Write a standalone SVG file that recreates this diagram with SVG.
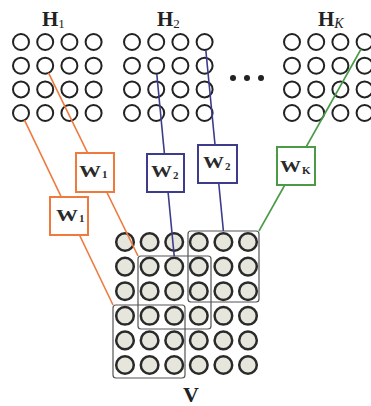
<svg xmlns="http://www.w3.org/2000/svg" width="371" height="406" viewBox="0 0 371 406">
  <defs>
    <style>
      .hc { fill: none; stroke: #222; stroke-width: 2; }
      .vc { fill: #e6e6dc; stroke: #2a2a2a; stroke-width: 2.5; }
      .vbox { fill: none; stroke: #555; stroke-width: 1.2; }
      .lbl { font-family: "Liberation Serif", "DejaVu Serif", serif; font-weight: bold; fill: #222; }
      .sub { font-weight: normal; }
      .wlbl { font-family: "Liberation Serif", "DejaVu Serif", serif; font-weight: bold; fill: #2a2a2a; }
      .orange { stroke: #ee7a3e; }
      .blue { stroke: #3c3c8a; }
      .green { stroke: #4a9a48; }
      .conn line { stroke-width: 1.6; }
      .wbox { fill: #fff; stroke-width: 2; }
    </style>
    <g id="hgrid">
      <circle class="hc" cx="0" cy="0" r="8"/><circle class="hc" cx="24.2" cy="0" r="8"/><circle class="hc" cx="48.4" cy="0" r="8"/><circle class="hc" cx="72.6" cy="0" r="8"/>
      <circle class="hc" cx="0" cy="23.7" r="8"/><circle class="hc" cx="24.2" cy="23.7" r="8"/><circle class="hc" cx="48.4" cy="23.7" r="8"/><circle class="hc" cx="72.6" cy="23.7" r="8"/>
      <circle class="hc" cx="0" cy="47.4" r="8"/><circle class="hc" cx="24.2" cy="47.4" r="8"/><circle class="hc" cx="48.4" cy="47.4" r="8"/><circle class="hc" cx="72.6" cy="47.4" r="8"/>
      <circle class="hc" cx="0" cy="71" r="8"/><circle class="hc" cx="24.2" cy="71" r="8"/><circle class="hc" cx="48.4" cy="71" r="8"/><circle class="hc" cx="72.6" cy="71" r="8"/>
    </g>
    <g id="vrow">
      <circle class="vc" cx="125" cy="0" r="8.8"/><circle class="vc" cx="149.6" cy="0" r="8.8"/><circle class="vc" cx="174.2" cy="0" r="8.8"/>
      <circle class="vc" cx="198.8" cy="0" r="8.8"/><circle class="vc" cx="223.4" cy="0" r="8.8"/><circle class="vc" cx="248" cy="0" r="8.8"/>
    </g>
  </defs>

  <rect width="371" height="406" fill="#fff"/>

  <!-- hidden-layer grids -->
  <g id="H1">
    <use href="#hgrid" x="21" y="42"/>
    <text class="lbl" x="42" y="26" font-size="21">H<tspan class="sub" font-size="13" dy="2">1</tspan></text>
  </g>
  <g id="H2">
    <use href="#hgrid" x="132" y="42"/>
    <text class="lbl" x="157" y="26" font-size="21">H<tspan class="sub" font-size="13" dy="2">2</tspan></text>
  </g>
  <g id="ellipsis">
    <circle cx="233" cy="78" r="3" fill="#222"/>
    <circle cx="247" cy="78" r="3" fill="#222"/>
    <circle cx="261" cy="78" r="3" fill="#222"/>
  </g>
  <g id="HK">
    <use href="#hgrid" x="292" y="42"/>
    <text class="lbl" x="318" y="26" font-size="21">H<tspan class="sub" font-size="14" dy="2" font-style="italic">K</tspan></text>
  </g>

  <!-- visible layer -->
  <g id="V">
    <use href="#vrow" y="242"/>
    <use href="#vrow" y="266.6"/>
    <use href="#vrow" y="291.2"/>
    <use href="#vrow" y="315.8"/>
    <use href="#vrow" y="340.4"/>
    <use href="#vrow" y="365"/>
    <rect class="vbox" x="188" y="231" width="71" height="71" rx="3"/>
    <rect class="vbox" x="138" y="256" width="73" height="73" rx="3"/>
    <rect class="vbox" x="113" y="305" width="72" height="73" rx="3"/>
    <text class="lbl" x="191" y="402" font-size="22" text-anchor="middle">V</text>
  </g>

  <!-- connectors -->
  <g id="connectors" class="conn">
    <line class="orange" x1="48.5" y1="72.9" x2="138" y2="256"/>
    <line class="orange" x1="24.5" y1="120.2" x2="113" y2="305"/>
    <line class="blue" x1="156.8" y1="74" x2="174.2" y2="256"/>
    <line class="blue" x1="205.8" y1="50" x2="223.4" y2="231"/>
    <line class="green" x1="361.1" y1="49" x2="259" y2="231"/>
  </g>

  <!-- filter weight boxes -->
  <g id="W1a">
    <rect class="wbox orange" x="76" y="153" width="38" height="39"/>
    <text class="wlbl" x="79" y="177" font-size="16.5" textLength="22" lengthAdjust="spacingAndGlyphs">W</text>
    <text class="wlbl" x="102" y="178" font-size="11">1</text>
  </g>
  <g id="W1b">
    <rect class="wbox orange" x="50" y="197" width="38" height="38"/>
    <text class="wlbl" x="56" y="221" font-size="16.5" textLength="22" lengthAdjust="spacingAndGlyphs">W</text>
    <text class="wlbl" x="79" y="222" font-size="11">1</text>
  </g>
  <g id="W2a">
    <rect class="wbox blue" x="147" y="154" width="37" height="38"/>
    <text class="wlbl" x="151" y="177" font-size="16.5" textLength="21" lengthAdjust="spacingAndGlyphs">W</text>
    <text class="wlbl" x="173" y="179" font-size="11">2</text>
  </g>
  <g id="W2b">
    <rect class="wbox blue" x="198" y="145" width="39" height="38"/>
    <text class="wlbl" x="203" y="168" font-size="16.5" textLength="21" lengthAdjust="spacingAndGlyphs">W</text>
    <text class="wlbl" x="225" y="170" font-size="11">2</text>
  </g>
  <g id="WK">
    <rect class="wbox green" x="277" y="147" width="38" height="38"/>
    <text class="wlbl" x="280" y="172" font-size="16.5" textLength="21" lengthAdjust="spacingAndGlyphs">W</text>
    <text class="wlbl" x="302" y="174" font-size="11">K</text>
  </g>
</svg>
